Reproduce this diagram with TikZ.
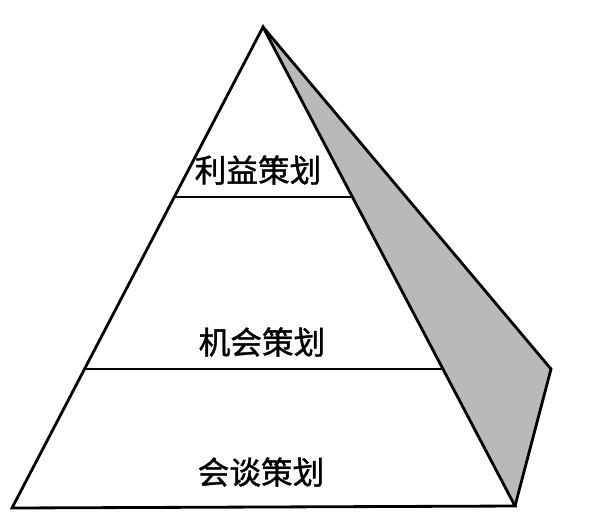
\documentclass[tikz,border=0pt]{standalone}
\usepackage{fontspec}
\newfontfamily\cjk[FakeBold=1.2]{Noto Sans CJK SC}
\usepackage{tikz}

\begin{document}
\begin{tikzpicture}
[x=0.03cm,y=-0.03cm,line join=miter,
 every node/.style={font=\cjk\fontsize{27pt}{29pt}\selectfont}]
\useasboundingbox (0,0) rectangle (594,518);
\coordinate (top) at (263,27);
\coordinate (bl) at (12,508);
\coordinate (br) at (515,506);
\coordinate (back) at (551,369);
% side face
\fill[gray!55] (top) -- (back) -- (br) -- cycle;
\draw[line width=2.4pt] (top) -- (bl) -- (br) -- cycle;
\draw[line width=2.4pt] (top) -- (back) -- (br);
% levels
\draw[line width=1.8pt] (175,197) -- (352,197);
\draw[line width=1.8pt] (85,369) -- (443,369);
\node (n1) at (258,170) {利益策划};
\node (n2) at (262,342) {机会策划};
\node (n3) at (261,472) {会谈策划};
\end{tikzpicture}
\end{document}
